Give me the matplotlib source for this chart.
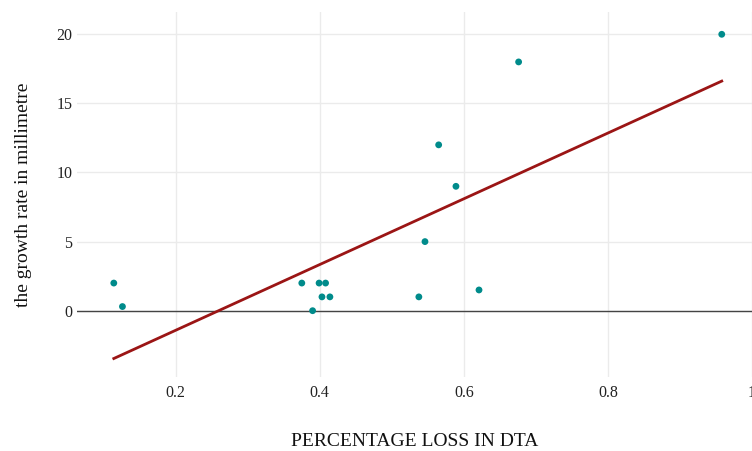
import matplotlib
matplotlib.use("Agg")
import matplotlib.pyplot as plt
import numpy as np

# percentage loss in DTA vs growth rate (mm)
loss_dta = [0.114, 0.126, 0.375, 0.390, 0.399, 0.408, 0.403, 0.414,
            0.5375, 0.546, 0.565, 0.589, 0.621, 0.676, 0.958]
growth_mm = [2, 0.3, 2, 0, 2, 2, 1, 1, 1, 5, 12, 9, 1.5, 18, 20]

x_ticks = [0.2, 0.4, 0.6, 0.8, 1.0]
x_tick_labels = ["0.2", "0.4", "0.6", "0.8", "1"]
y_ticks = [0, 5, 10, 15, 20]

plt.rcParams['font.family'] = ['Liberation Serif', 'DejaVu Serif']

fig = plt.figure(figsize=(7.52, 4.51), dpi=100, facecolor='white')
ax = fig.add_axes([0.102, 0.164, 0.898, 0.809])
ax.set_facecolor('white')

x = np.array(loss_dta)
y = np.array(growth_mm)

# least squares trend line over the data range
slope, intercept = np.polyfit(x, y, 1)
xs = np.array([x.min(), x.max()])
ax.plot(xs, slope * xs + intercept, color='#9b1515', linewidth=2, zorder=3)

ax.scatter(x, y, s=24, color='#008b8b', edgecolors='none', zorder=4)

ax.axhline(0, color='#444444', linewidth=1, zorder=2)

ax.set_xlim(0.0625, 1.0)
ax.set_ylim(-4.8, 21.6)
ax.set_xticks(x_ticks)
ax.set_xticklabels(x_tick_labels)
ax.set_yticks(y_ticks)

ax.grid(True, color='#ebebeb', linewidth=1, zorder=0)
ax.set_axisbelow(True)
for s in ax.spines.values():
    s.set_visible(False)
ax.tick_params(length=0, labelsize=11.5, colors='#222222')
ax.tick_params(axis='y', pad=3)
ax.tick_params(axis='x', pad=6)

ax.set_xlabel("PERCENTAGE LOSS IN DTA", fontsize=14, color='#111111', labelpad=23)
ax.set_ylabel("the growth rate in millimetre", fontsize=14, color='#111111', labelpad=18)

fig.savefig("out.png", dpi=100, facecolor='white')
